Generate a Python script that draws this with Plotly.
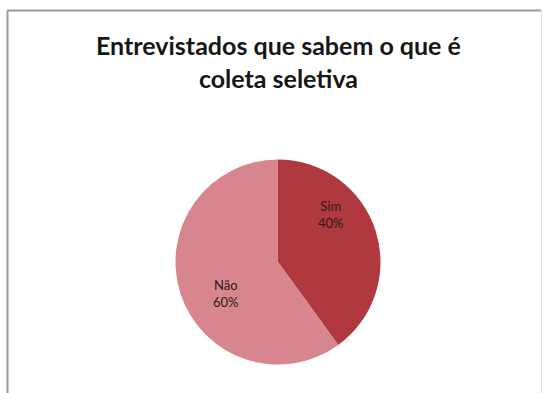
import plotly.graph_objects as go

# Survey result: respondents who know what selective waste collection is
categories = ["Sim", "Não"]
percentages = [40, 60]
slice_colors = ["#b0393f", "#d8868e"]

title_lines = ["Entrevistados que sabem o que é", "coleta seletiva"]

W, H = 546, 393

fig = go.Figure(
    go.Pie(
        labels=categories,
        values=percentages,
        sort=False,
        direction="clockwise",
        rotation=0,
        marker=dict(colors=slice_colors, line=dict(width=0)),
        textinfo="none",
        hoverinfo="label+percent",
        showlegend=False,
        domain=dict(x=[175.5 / W, 380.5 / W], y=[28.5 / H, 233.5 / H]),
    )
)

# Data labels placed inside each slice
label_pos = {"Sim": (331, 214), "Não": (226, 293)}
for cat, pct in zip(categories, percentages):
    px, py = label_pos[cat]
    fig.add_annotation(
        x=px / W, y=1 - py / H, xref="paper", yref="paper",
        xanchor="center", yanchor="middle",
        text=f"{cat}<br>{pct}%", showarrow=False,
        font=dict(family="Lato", size=13, color="#2e1a1a"),
        align="center",
    )

# Chart title
fig.add_annotation(
    x=278 / W, y=1 - 61 / H, xref="paper", yref="paper",
    xanchor="center", yanchor="middle",
    text="<br>".join(title_lines), showarrow=False,
    font=dict(family="Lato", size=25, color="#161616", weight="bold"),
    align="center",
)

# Chart area frame
fig.add_shape(type="line", xref="paper", yref="paper",
              x0=7.5 / W, x1=541 / W, y0=1 - 10.5 / H, y1=1 - 10.5 / H,
              line=dict(color="#9a9a9a", width=2))
fig.add_shape(type="line", xref="paper", yref="paper",
              x0=7.5 / W, x1=7.5 / W, y0=1 - 10.5 / H, y1=0,
              line=dict(color="#9a9a9a", width=2))
fig.add_shape(type="line", xref="paper", yref="paper",
              x0=541.5 / W, x1=541.5 / W, y0=1 - 10.5 / H, y1=0,
              line=dict(color="#e2e2e2", width=1))

fig.update_layout(
    width=W, height=H,
    margin=dict(l=0, r=0, t=0, b=0),
    paper_bgcolor="white",
    plot_bgcolor="white",
)

fig.write_html("out.html")
